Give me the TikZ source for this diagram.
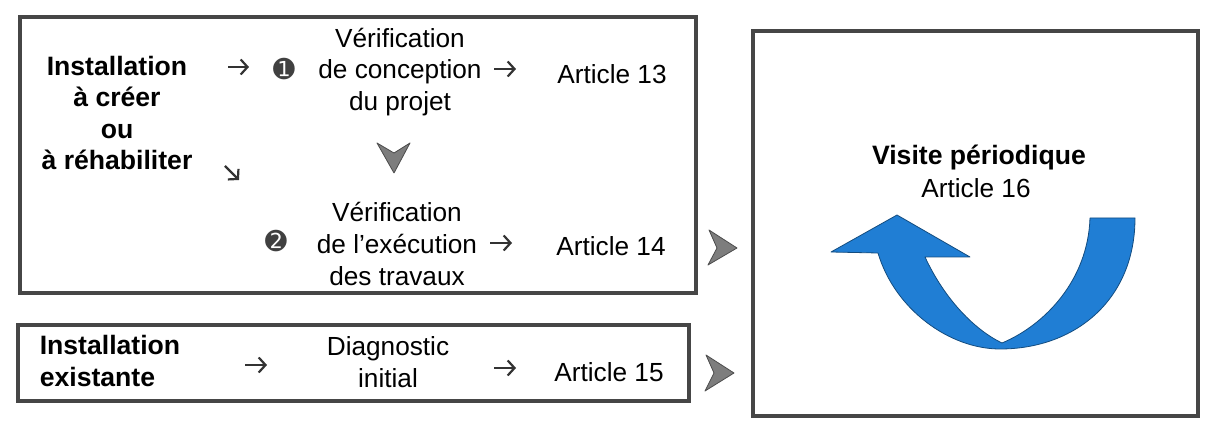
\documentclass[tikz,border=0pt]{standalone}
\usepackage{fontspec}
\usetikzlibrary{calc,arrows.meta}
\setmainfont{Liberation Sans}
\newfontfamily\symfont{DejaVu Sans}
\definecolor{boxline}{RGB}{70,70,70}
\definecolor{chevfill}{RGB}{125,125,125}
\definecolor{arrowblue}{RGB}{32,126,212}
\begin{document}
\begin{tikzpicture}[x=0.5pt,y=-0.5pt,
  frame/.style={draw=boxline,line width=2pt},
  txt/.style={inner sep=0pt,align=center,font=\fontsize{13.1}{15.8}\selectfont},
  btxt/.style={txt,font=\fontsize{13.3}{15.8}\selectfont\bfseries},
  num/.style={inner sep=0pt,text=black!75,font=\fontsize{13}{14}\selectfont\symfont},
  tarrow/.style={draw=black!80,line width=1.1pt,-{Straight Barb[length=3.4pt,width=7.5pt,line width=1.1pt]}},
  chev/.style={fill=chevfill,draw=black!70,line width=0.4pt,line join=round}]
\useasboundingbox (0,0) rectangle (1207,422);
% frames
\draw[frame] (20,17) rectangle (696,293);
\draw[frame] (18,325) rectangle (689,401);
\draw[frame] (753,31) rectangle (1198,416);
% top box
\node[btxt] (inst1) at (117,113) {Installation\\à créer\\ou\\à réhabiliter};
\coordinate (a1s) at (228,67); \coordinate (a1e) at (249,67);
\draw[tarrow] (a1s) -- (a1e);
\node[num] (n1) at (284,69) {➊};
\node[txt] (ver1) at (400,72) {Vérification\\de conception\\du projet};
\coordinate (a2s) at (494,69); \coordinate (a2e) at (516,69);
\draw[tarrow] (a2s) -- (a2e);
\node[txt] (art13) at (612,74) {Article 13};
\coordinate (a3s) at (225,166); \coordinate (a3e) at (239,180);
\draw[tarrow] (a3s) -- (a3e);
\coordinate (dc) at (394,158);
\draw[chev] ($(dc)+(-17,-15)$) -- ($(dc)+(0,-5)$) -- ($(dc)+(16,-15)$) -- ($(dc)+(0,15)$) -- cycle;
\node[num] (n2) at (276,241) {➋};
\node[txt] (ver2) at (397,244) {Vérification\\de l'exécution\\des travaux};
\coordinate (a4s) at (490,243); \coordinate (a4e) at (512,243);
\draw[tarrow] (a4s) -- (a4e);
\node[txt] (art14) at (611,246) {Article 14};
% bottom box
\node[btxt,align=left] (inst2) at (110,361) {Installation\\existante};
\coordinate (a5s) at (245,365); \coordinate (a5e) at (267,365);
\draw[tarrow] (a5s) -- (a5e);
\node[txt] (diag) at (388,362) {Diagnostic\\initial};
\coordinate (a6s) at (494,368); \coordinate (a6e) at (516,368);
\draw[tarrow] (a6s) -- (a6e);
\node[txt] (art15) at (609,372) {Article 15};
% chevrons to right box
\coordinate (c1) at (722,248);
\coordinate (c2) at (719,373);
\draw[chev] ($(c1)+(-13,-18)$) -- ($(c1)+(15,0)$) -- ($(c1)+(-14,17)$) -- ($(c1)+(-5,0)$) -- cycle;
\draw[chev] ($(c2)+(-13,-18)$) -- ($(c2)+(15,0)$) -- ($(c2)+(-14,18)$) -- ($(c2)+(-5,0)$) -- cycle;
% right box
\node[btxt] (vis) at (979,158) {Visite périodique};
\node[txt] (art16) at (976,188) {Article 16};
\draw[fill=arrowblue,draw=arrowblue!60!black,line width=0.4pt,line join=round]
  (897,215) -- (970,257) -- (925,257)
  .. controls (945,300) and (975,330) .. (1002,343)
  .. controls (1045,325) and (1088,280) .. (1090,218)
  -- (1135,218)
  .. controls (1135,300) and (1075,349) .. (1000,349)
  .. controls (950,349) and (895,310) .. (878,253)
  -- (831,252) -- cycle;
\end{tikzpicture}
\end{document}
